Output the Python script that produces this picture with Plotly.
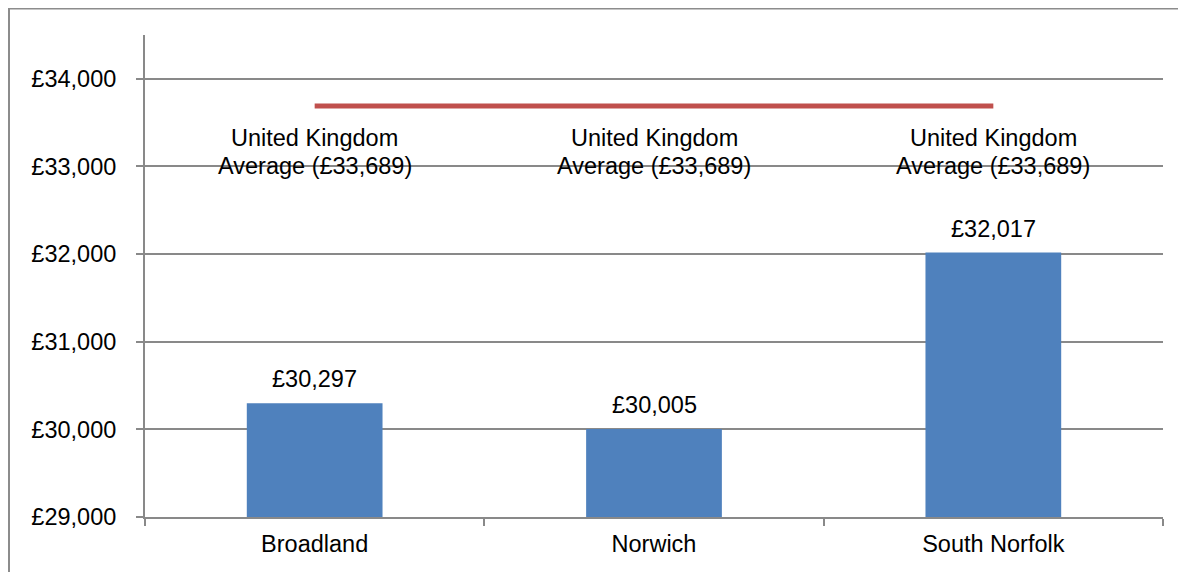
import plotly.graph_objects as go

categories = ["Broadland", "Norwich", "South Norfolk"]
values = [30297, 30005, 32017]
uk_average = 33689
uk_label_lines = ["United Kingdom", "Average (£33,689)"]
tick_vals = [29000, 30000, 31000, 32000, 33000, 34000]
tick_text = ["£29,000", "£30,000", "£31,000", "£32,000", "£33,000", "£34,000"]
bar_labels = ["£30,297", "£30,005", "£32,017"]

FONT = "Liberation Sans, Arial, sans-serif"
FS = 23.5
GRID = "#898989"

fig = go.Figure()
fig.add_trace(go.Bar(
    x=categories, y=values,
    marker=dict(color="#4F81BD", line=dict(width=0)),
    width=0.4,
))
fig.add_trace(go.Scatter(
    x=categories, y=[uk_average] * len(categories),
    mode="lines",
    line=dict(color="#C0504D", width=5),
))
for c, v, t in zip(categories, values, bar_labels):
    fig.add_annotation(
        x=c, y=v, text=t, showarrow=False,
        yanchor="bottom", yshift=9,
        font=dict(size=FS, color="#000000", family=FONT),
    )
for c in categories:
    for i, line in enumerate(uk_label_lines):
        fig.add_annotation(
            x=c, y=uk_average, text=line, showarrow=False,
            yanchor="middle", yshift=-32 - 28 * i,
            font=dict(size=FS, color="#000000", family=FONT),
        )

# page body has an 8px margin; plot area sits at page x 145..1163, y 35..517
# outer border
fig.add_shape(type="rect", xref="paper", yref="paper",
              x0=(1 - 137) / 1018, x1=1.1, y0=-0.3, y1=(509 - 0) / 482 - 0.001,
              line=dict(color="#8C8C8C", width=2), fillcolor="rgba(0,0,0,0)", layer="below")

fig.update_layout(
    width=1178, height=564,
    margin=dict(l=137, r=23, t=27, b=55),
    paper_bgcolor="white", plot_bgcolor="white",
    showlegend=False,
    bargap=0.6,
    font=dict(family=FONT, size=FS, color="#000000"),
)
fig.update_xaxes(
    showline=True, linecolor=GRID, linewidth=2,
    ticks="outside", tickson="boundaries", ticklen=7, tickcolor=GRID, tickwidth=2,
    showgrid=False,
    ticklabelstandoff=5,
    tickfont=dict(size=FS, family=FONT, color="#000000"),
)
fig.update_yaxes(
    range=[29000, 34500],
    tickvals=tick_vals, ticktext=tick_text,
    showline=True, linecolor=GRID, linewidth=2,
    ticks="outside", ticklen=7, tickcolor=GRID, tickwidth=2,
    showgrid=True, gridcolor=GRID, gridwidth=2,
    zeroline=False,
    ticklabelstandoff=15,
    tickfont=dict(size=FS, family=FONT, color="#000000"),
)

fig.write_html("out.html")
